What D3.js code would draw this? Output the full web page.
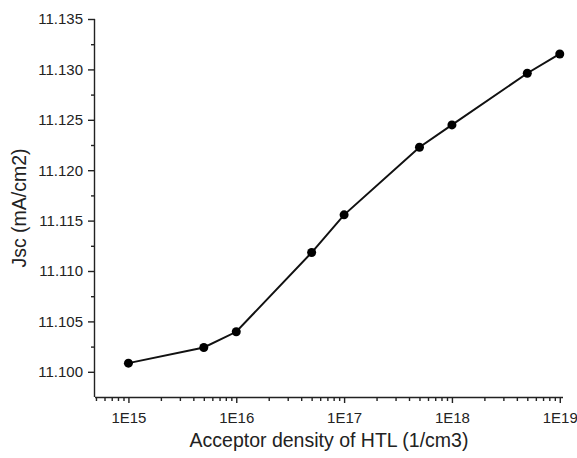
<!DOCTYPE html>
<html>
<head>
<meta charset="utf-8">
<script src="https://cdn.jsdelivr.net/npm/d3@7"></script>
<style>
  html, body { margin: 0; padding: 0; background: #fff; }
  svg { display: block; font-family: "Liberation Sans", Arial, sans-serif; }
</style>
</head>
<body>
<svg id="chart" width="577" height="458"></svg>
<script>
// Acceptor density of the hole transport layer (1/cm3)
const densities = [1e15, 5e15, 1e16, 5e16, 1e17, 5e17, 1e18, 5e18, 1e19];
// Short-circuit current density (mA/cm2)
const jscValues = [11.10086, 11.10241, 11.10397, 11.11183, 11.11557, 11.12228, 11.12449, 11.12962, 11.13153];
const xTickValues = [1e15, 1e16, 1e17, 1e18, 1e19];
const xTickLabels = ["1E15", "1E16", "1E17", "1E18", "1E19"];
const yTickValues = [11.100, 11.105, 11.110, 11.115, 11.120, 11.125, 11.130, 11.135];

const svg = d3.select("#chart");
const plotLeft = 95, plotRight = 563, plotTop = 19, plotBottom = 397;

const x = d3.scaleLog().domain([Math.pow(10, 14.69), Math.pow(10, 19.03)]).range([plotLeft, plotRight]);
const y = d3.scaleLinear().domain([11.0975, 11.135]).range([plotBottom, plotTop]);

// minor x ticks: 2..9 of every decade within the domain
const xMinor = [];
for (let e = 14; e <= 19; e++) {
  for (let m = 2; m <= 9; m++) {
    const v = m * Math.pow(10, e);
    if (v >= x.domain()[0] * 0.999 && v <= x.domain()[1]) xMinor.push(v);
  }
}
const yMinor = d3.range(11.1025, 11.135, 0.005);

const axisColor = "#222";

// x axis
const xAxis = svg.append("g").attr("transform", `translate(0,${plotBottom})`);
xAxis.call(d3.axisBottom(x).tickValues(xMinor).tickSize(4).tickFormat(""));
xAxis.call(g => g.select(".domain").remove());
const xMajor = svg.append("g").attr("transform", `translate(0,${plotBottom})`)
  .call(d3.axisBottom(x).tickValues(xTickValues).tickSize(6).tickPadding(9)
    .tickFormat((d, i) => xTickLabels[i]));
xMajor.select(".domain").attr("d", `M${plotLeft},0.5H${plotRight}`);

// y axis
const yMinorG = svg.append("g").attr("transform", `translate(${plotLeft},0)`)
  .call(d3.axisLeft(y).tickValues(yMinor).tickSize(4).tickFormat(""));
yMinorG.select(".domain").remove();
const yAxis = svg.append("g").attr("transform", `translate(${plotLeft},0)`)
  .call(d3.axisLeft(y).tickValues(yTickValues).tickSize(7).tickPadding(5)
    .tickFormat(d3.format(".3f")));
yAxis.select(".domain").attr("d", `M-0.5,${plotTop}V${plotBottom}`);

svg.selectAll(".domain, .tick line").attr("stroke", axisColor).attr("stroke-width", 1.4);
svg.selectAll(".tick text").attr("fill", "#222").style("font-size", "15px")
  .style("font-family", "'Liberation Sans', Arial, sans-serif");

// axis titles
svg.append("text")
  .attr("x", (plotLeft + plotRight) / 2).attr("y", 447)
  .attr("text-anchor", "middle").attr("fill", "#222")
  .style("font-size", "19.5px")
  .text("Acceptor density of HTL (1/cm3)");
svg.append("text")
  .attr("transform", `translate(26,${(plotTop + plotBottom) / 2}) rotate(-90)`)
  .attr("text-anchor", "middle").attr("fill", "#222")
  .style("font-size", "19.5px")
  .text("Jsc (mA/cm2)");

// data line and markers
const data = densities.map((d, i) => ({ d, v: jscValues[i] }));
svg.append("path")
  .datum(data)
  .attr("fill", "none").attr("stroke", "#111").attr("stroke-width", 2)
  .attr("d", d3.line().x(p => x(p.d)).y(p => y(p.v)));
svg.selectAll("circle.pt").data(data).join("circle")
  .attr("class", "pt")
  .attr("cx", p => x(p.d)).attr("cy", p => y(p.v)).attr("r", 4.5)
  .attr("fill", "#000");
</script>
</body>
</html>
